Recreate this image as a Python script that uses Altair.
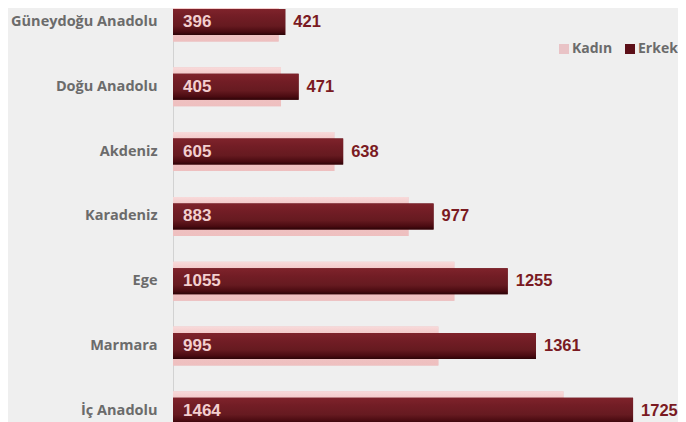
import altair as alt
import pandas as pd

regions = ["Güneydoğu Anadolu", "Doğu Anadolu", "Akdeniz", "Karadeniz", "Ege", "Marmara", "İç Anadolu"]
kadin = [396, 405, 605, 883, 1055, 995, 1464]
erkek = [421, 471, 638, 977, 1255, 1361, 1725]
series_names = ["Kadın", "Erkek"]
series_colors = ["#e9c3c6", "#5c0f18"]

df = pd.DataFrame({"region": regions, "Kadın": kadin, "Erkek": erkek})

BG = "#efefef"
GRAY = "#6b6b6b"

y_enc = alt.Y(
    "region:N",
    sort=regions,
    scale=alt.Scale(domain=regions, range=[-18.4, 435.2], paddingInner=0, paddingOuter=0),
    axis=alt.Axis(
        title=None, ticks=False, labelPadding=16, labelFont="Open Sans",
        labelFontWeight="bold", labelFontSize=14.5, labelColor=GRAY,
        domainColor="#d2d2d2", domainWidth=1, grid=False,
    ),
)
x_scale = alt.Scale(domain=[0, 2000], range=[0, 533.4])

color_enc = alt.Color(
    "s:N",
    scale=alt.Scale(domain=series_names, range=series_colors),
    legend=alt.Legend(
        orient="none", legendX=384, legendY=34, direction="horizontal", title=None,
        symbolType="square", symbolSize=100, symbolStrokeWidth=0,
        labelFont="Open Sans", labelFontWeight="bold", labelFontSize=14,
        labelColor=GRAY, columnPadding=10, labelOffset=1, padding=0,
    ),
)

pink_grad = alt.LinearGradient(
    gradient="linear", x1=0, x2=0, y1=0, y2=1,
    stops=[
        alt.GradientStop(color="#f8dada", offset=0),
        alt.GradientStop(color="#f3c8c8", offset=0.2),
        alt.GradientStop(color="#eebfbf", offset=1),
    ],
)
red_grad = alt.LinearGradient(
    gradient="linear", x1=0, x2=0, y1=0, y2=1,
    stops=[
        alt.GradientStop(color="#7f232b", offset=0),
        alt.GradientStop(color="#721d25", offset=0.3),
        alt.GradientStop(color="#661a20", offset=0.65),
        alt.GradientStop(color="#4a0b11", offset=0.88),
        alt.GradientStop(color="#2c0407", offset=1),
    ],
)

base = alt.Chart(df)

kadin_base = base.mark_bar(size=39).encode(
    y=y_enc, x=alt.X("Kadın:Q", scale=x_scale, axis=None), color=color_enc
).transform_calculate(s="'Kadın'")
kadin_grad = base.mark_bar(size=39, color=pink_grad).encode(
    y=y_enc, x=alt.X("Kadın:Q", scale=x_scale, axis=None)
)
erkek_base = base.mark_bar(size=26).encode(
    y=y_enc, x=alt.X("Erkek:Q", scale=x_scale, axis=None), color=color_enc
).transform_calculate(s="'Erkek'")
erkek_grad = base.mark_bar(size=26, color=red_grad).encode(
    y=y_enc, x=alt.X("Erkek:Q", scale=x_scale, axis=None)
)
kadin_text = base.mark_text(
    align="left", baseline="middle", dy=0, font="Liberation Sans",
    fontWeight="bold", fontSize=17, color="#f2cfcf",
).encode(y=y_enc, x=alt.value(10), text="Kadın:Q")
erkek_text = base.mark_text(
    align="left", baseline="middle", dx=8, dy=0, font="Liberation Sans",
    fontWeight="bold", fontSize=16.5, color="#7a1a22",
).encode(y=y_enc, x=alt.X("Erkek:Q", scale=x_scale, axis=None), text="Erkek:Q")

chart = alt.layer(
    kadin_base, kadin_grad, erkek_base, erkek_grad, kadin_text, erkek_text
).properties(
    width=505, height=414,
    autosize=alt.AutoSizeParams(type="none"),
    padding={"left": 165, "top": 0, "right": 0, "bottom": 0},
).configure(background=BG).configure_view(stroke=None)

chart.save("out.html", embed_options={"renderer": "svg", "actions": False})
